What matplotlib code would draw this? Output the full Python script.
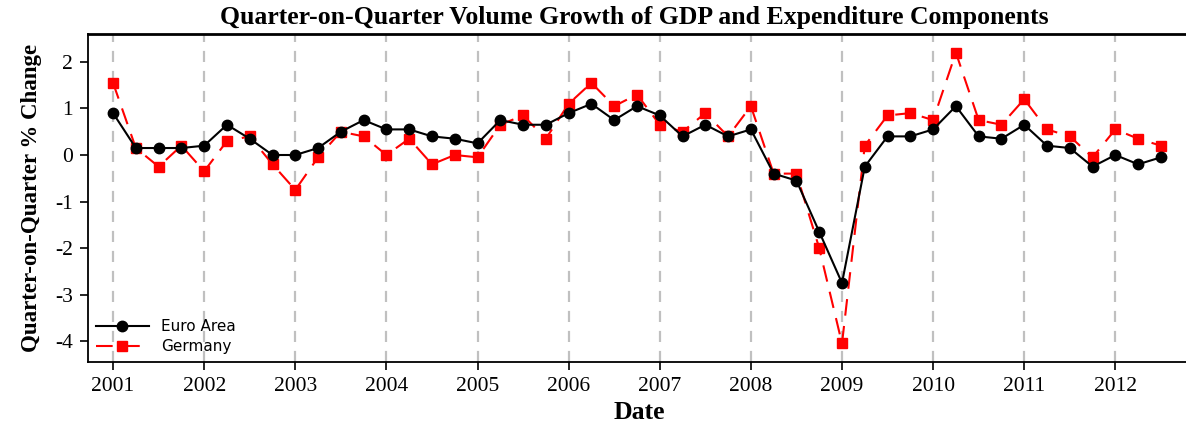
import numpy as np
from matplotlib import pyplot as plt

years = [2001, 2002, 2003, 2004, 2005, 2006, 2007, 2008, 2009, 2010, 2011, 2012]

euro_area = [0.9, 0.15, 0.15, 0.15, 0.2, 0.65, 0.35, 0.0, 0.0, 0.15, 0.5, 0.75,
             0.55, 0.55, 0.4, 0.35, 0.25, 0.75, 0.65, 0.65,
             0.9, 1.1, 0.75, 1.05, 0.85, 0.4, 0.65, 0.4,
             0.55, -0.4, -0.55, -1.65, -2.75, -0.25, 0.4, 0.4,
             0.55, 1.05, 0.4, 0.35, 0.65, 0.2, 0.15, -0.25,
             0.0, -0.2, -0.05]
germany = [1.55, 0.15, -0.25, 0.2, -0.35, 0.3, 0.4, -0.2, -0.75, -0.05, 0.5, 0.4,
           0.0, 0.35, -0.2, 0.0, -0.05, 0.65, 0.85, 0.35,
           1.1, 1.55, 1.05, 1.3, 0.65, 0.5, 0.9, 0.4,
           1.05, -0.4, -0.4, -2.0, -4.05, 0.2, 0.85, 0.9,
           0.75, 2.2, 0.75, 0.65, 1.2, 0.55, 0.4, -0.05,
           0.55, 0.35, 0.2]

dates = 2001 + np.arange(len(euro_area)) * 0.25

serif = ['Liberation Serif', 'DejaVu Serif']

fig = plt.figure(figsize=(11.86, 4.25), dpi=100)
ax = fig.add_axes([0.0742, 0.148, 0.93, 0.772])

# vertical dashed lines at every year
for yr in years:
    ax.axvline(yr, color='#c0c0c0', linestyle=(0, (5, 4)), linewidth=1.6, zorder=0)

ax.plot(dates, euro_area, color='black', linewidth=1.5, marker='o', markersize=7.5,
        label='Euro Area', zorder=3)
ax.plot(dates, germany, color='red', linewidth=1.5, linestyle=(0, (8, 5)), marker='s',
        markersize=7.5, label='Germany', zorder=2)

ax.set_xlim(2000.725, 2012.83)
ax.set_ylim(-4.45, 2.6)
ax.set_xticks(years)
ax.set_xticklabels([str(y) for y in years], fontfamily=serif, fontsize=15.5)
ax.set_yticks([-4, -3, -2, -1, 0, 1, 2])
ax.set_yticklabels(['-4', '-3', '-2', '-1', '0', '1', '2'], fontfamily=serif, fontsize=15.5)
ax.tick_params(direction='out', length=6, width=1.2, pad=5)

ax.spines['right'].set_visible(False)
ax.spines['top'].set_linewidth(2)
ax.spines['left'].set_linewidth(1.3)
ax.spines['bottom'].set_linewidth(1.3)

ax.set_xlabel('Date', fontfamily=serif, fontweight='bold', fontsize=18.5, labelpad=3)
ax.set_ylabel('Quarter-on-Quarter % Change', fontfamily=serif, fontweight='bold',
              fontsize=16.5, labelpad=9)
fig.text(0.535, 0.958, 'Quarter-on-Quarter Volume Growth of GDP and Expenditure Components',
         ha='center', va='center', fontfamily=serif, fontweight='bold', fontsize=18.5)

ax.legend(loc='lower left', frameon=False, fontsize=11, handlelength=3.5,
          borderaxespad=0.1, labelspacing=0.35, handletextpad=0.8)

fig.savefig('out.png', dpi=100)
